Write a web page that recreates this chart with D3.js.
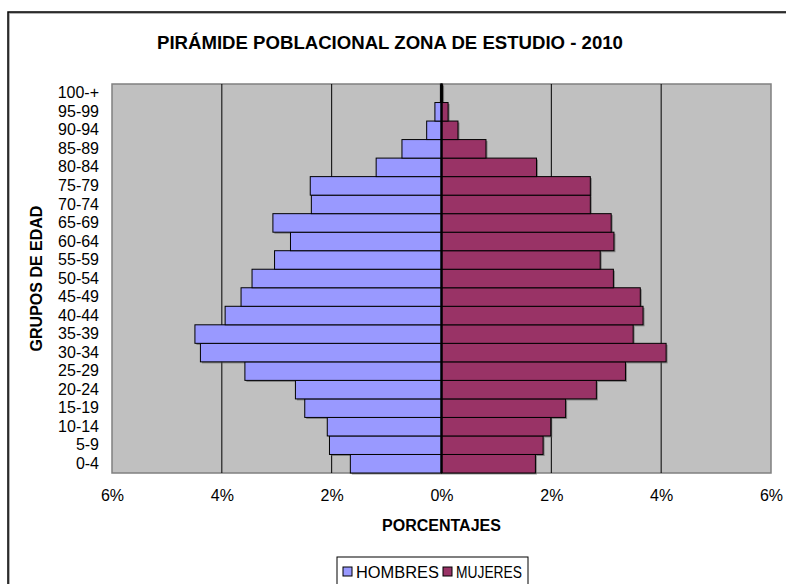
<!DOCTYPE html>
<html>
<head>
<meta charset="utf-8">
<script src="https://cdn.jsdelivr.net/npm/d3@7"></script>
<style>
  body { margin: 0; background: #fff; }
  text { font-family: "Liberation Sans", Arial, sans-serif; fill: #000; }
</style>
</head>
<body>
<div id="chart"></div>
<script>
const grupos = ["0-4", "5-9", "10-14", "15-19", "20-24", "25-29", "30-34", "35-39",
  "40-44", "45-49", "50-54", "55-59", "60-64", "65-69", "70-74", "75-79",
  "80-84", "85-89", "90-94", "95-99", "100-+"];
const hombres = [1.66, 2.04, 2.08, 2.49, 2.66, 3.58, 4.39, 4.49, 3.94, 3.65, 3.45,
  3.04, 2.75, 3.07, 2.37, 2.39, 1.19, 0.72, 0.27, 0.12, 0.02];
const mujeres = [1.71, 1.85, 1.99, 2.26, 2.82, 3.35, 4.09, 3.49, 3.67, 3.62, 3.13,
  2.89, 3.14, 3.09, 2.71, 2.71, 1.73, 0.81, 0.30, 0.12, 0.02];
const xTicks = [-6, -4, -2, 0, 2, 4, 6];

const W = 786, H = 584;
const plot = {left: 112, right: 771, top: 84, bottom: 473};

const svg = d3.select("#chart").append("svg")
  .attr("width", W).attr("height", H);

// outer frame (runs off the right and bottom edges)
svg.append("rect")
  .attr("x", 9).attr("y", 13).attr("width", 800).attr("height", 600)
  .attr("fill", "none").attr("stroke", "#999").attr("stroke-width", 1.5);
svg.append("rect")
  .attr("x", 8).attr("y", 12).attr("width", 800).attr("height", 600)
  .attr("fill", "none").attr("stroke", "#000").attr("stroke-width", 1.5);

svg.append("text")
  .attr("x", 390).attr("y", 49)
  .attr("text-anchor", "middle")
  .style("font-size", "18.6px").style("font-weight", "bold")
  .text("PIRÁMIDE POBLACIONAL ZONA DE ESTUDIO - 2010");

const x = d3.scaleLinear().domain([-6, 6]).range([plot.left, plot.right]);
const y = d3.scaleBand().domain(grupos.slice().reverse())
  .range([plot.top, plot.bottom]).padding(0);

svg.append("rect")
  .attr("x", plot.left).attr("y", plot.top)
  .attr("width", plot.right - plot.left).attr("height", plot.bottom - plot.top)
  .attr("fill", "#c0c0c0").attr("stroke", "#808080").attr("stroke-width", 1.5);

svg.append("g").selectAll("line")
  .data(xTicks.filter(d => Math.abs(d) !== 6 && d !== 0))
  .enter().append("line")
  .attr("x1", d => x(d)).attr("x2", d => x(d))
  .attr("y1", plot.top).attr("y2", plot.bottom)
  .attr("stroke", "#000").attr("stroke-width", 1);

const rows = grupos.map((g, i) => ({g: g, h: hombres[i], m: mujeres[i]}));

// shadows
const sh = svg.append("g").attr("fill", "#555").attr("opacity", 0.6);
sh.selectAll(".sh").data(rows).enter().append("rect")
  .attr("x", d => x(-d.h) + 1.5).attr("y", d => y(d.g) + 1.5)
  .attr("width", d => x(0) - x(-d.h)).attr("height", y.bandwidth());
sh.selectAll(".sm").data(rows).enter().append("rect")
  .attr("x", x(0) + 1.5).attr("y", d => y(d.g) + 1.5)
  .attr("width", d => x(d.m) - x(0)).attr("height", y.bandwidth());

svg.append("g").selectAll("rect").data(rows).enter().append("rect")
  .attr("x", d => x(-d.h)).attr("y", d => y(d.g))
  .attr("width", d => x(0) - x(-d.h)).attr("height", y.bandwidth())
  .attr("fill", "#9999ff").attr("stroke", "#000").attr("stroke-width", 1);

svg.append("g").selectAll("rect").data(rows).enter().append("rect")
  .attr("x", x(0)).attr("y", d => y(d.g))
  .attr("width", d => x(d.m) - x(0)).attr("height", y.bandwidth())
  .attr("fill", "#993366").attr("stroke", "#000").attr("stroke-width", 1);

// zero axis
svg.append("line")
  .attr("x1", x(0)).attr("x2", x(0))
  .attr("y1", plot.top).attr("y2", plot.bottom)
  .attr("stroke", "#000").attr("stroke-width", 2.5);

const yAxis = svg.append("g")
  .attr("transform", "translate(" + plot.left + ",0)")
  .call(d3.axisLeft(y).tickSize(0).tickPadding(13));
yAxis.select(".domain").remove();
yAxis.selectAll("text").style("font-size", "16px")
  .style("font-family", "'Liberation Sans', Arial, sans-serif").attr("fill", "#000");

const xAxis = svg.append("g")
  .attr("transform", "translate(0," + plot.bottom + ")")
  .call(d3.axisBottom(x).tickValues(xTicks).tickSize(0).tickPadding(17)
    .tickFormat(d => Math.abs(d) + "%"));
xAxis.select(".domain").remove();
xAxis.selectAll("text").style("font-size", "16px")
  .style("font-family", "'Liberation Sans', Arial, sans-serif").attr("fill", "#000");

svg.append("text")
  .attr("x", x(0)).attr("y", 531)
  .attr("text-anchor", "middle")
  .style("font-size", "16px").style("font-weight", "bold")
  .text("PORCENTAJES");

svg.append("text")
  .attr("transform", "translate(42," + ((plot.top + plot.bottom) / 2) + ") rotate(-90)")
  .attr("text-anchor", "middle")
  .style("font-size", "16px").style("font-weight", "bold")
  .text("GRUPOS DE EDAD");

// legend
const lg = svg.append("g");
lg.append("rect")
  .attr("x", 337).attr("y", 557).attr("width", 191).attr("height", 40)
  .attr("fill", "#fff").attr("stroke", "#000").attr("stroke-width", 1);
const series = [{name: "HOMBRES", color: "#9999ff", x: 343, len: 83},
                {name: "MUJERES", color: "#993366", x: 443, len: 66}];
series.forEach(s => {
  lg.append("rect")
    .attr("x", s.x).attr("y", 567).attr("width", 9).attr("height", 9)
    .attr("fill", s.color).attr("stroke", "#000").attr("stroke-width", 1);
  lg.append("text")
    .attr("x", s.x + 13).attr("y", 578)
    .attr("textLength", s.len).attr("lengthAdjust", "spacingAndGlyphs")
    .style("font-size", "16px")
    .text(s.name);
});
</script>
</body>
</html>
